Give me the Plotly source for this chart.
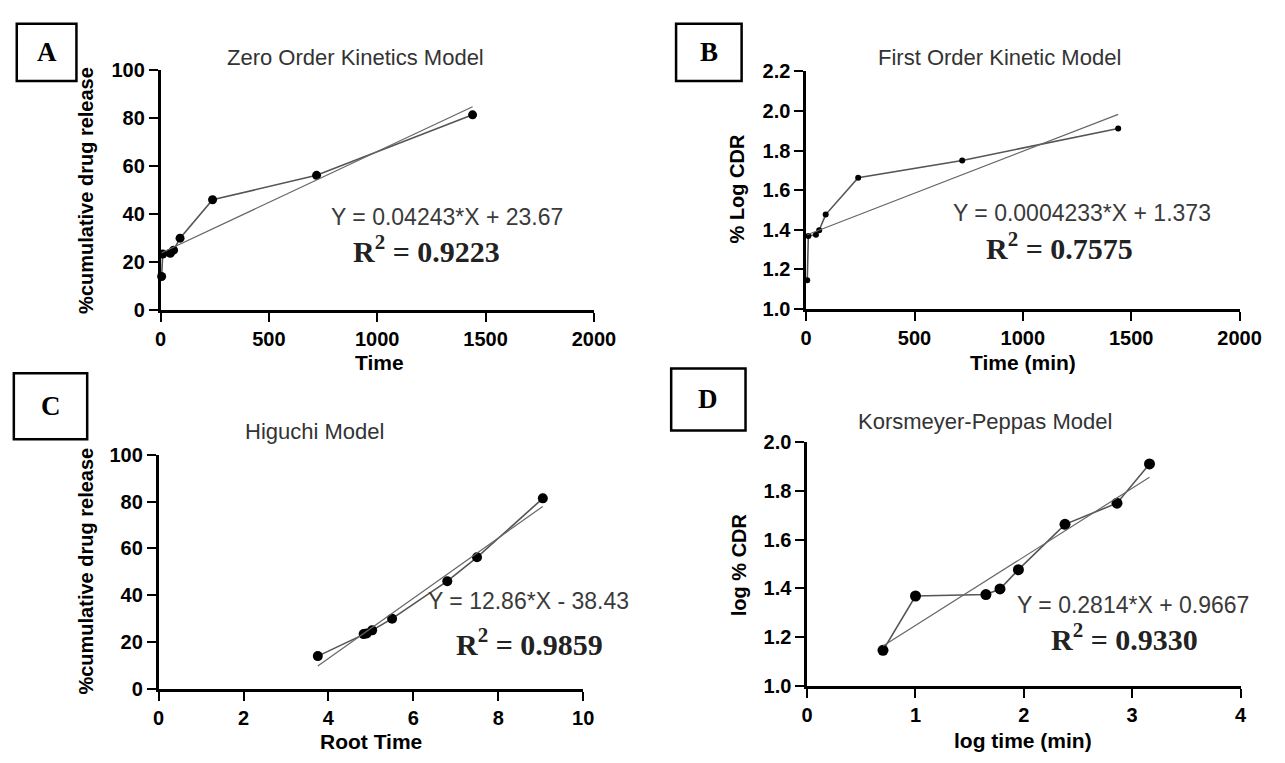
import plotly.graph_objects as go

W, H = 1285, 763

# ---- data ----
time_min = [5, 10, 45, 60, 90, 240, 720, 1440]
cdr_pct = [14.0, 23.4, 23.7, 25.0, 30.0, 46.0, 56.2, 81.4]
log_cdr = [1.146, 1.369, 1.375, 1.398, 1.477, 1.663, 1.750, 1.911]
root_time = [3.75, 4.83, 4.90, 5.03, 5.50, 6.80, 7.50, 9.05]
log_time = [0.70, 1.00, 1.65, 1.78, 1.95, 2.38, 2.86, 3.16]

zero_fit = (0.04243, 23.67)
first_fit = (0.0004233, 1.373)
higuchi_fit = (12.86, -38.43)
kp_fit = (0.2814, 0.9667)

titles = ["Zero Order Kinetics Model", "First Order Kinetic Model",
          "Higuchi Model", "Korsmeyer-Peppas Model"]
eq_texts = ["Y = 0.04243*X + 23.67", "Y = 0.0004233*X + 1.373",
            "Y = 12.86*X - 38.43", "Y = 0.2814*X + 0.9667"]
r2_texts = ["0.9223", "0.7575", "0.9859", "0.9330"]
panel_letters = ["A", "B", "C", "D"]
x_titles = ["Time", "Time (min)", "Root Time", "log time (min)"]
y_titles = ["%cumulative drug release", "% Log CDR",
            "%cumulative drug release", "log % CDR"]


def px(x):
    return x / W


def py(y):
    return 1 - y / H


panels = [
    dict(x=time_min, y=cdr_pct, fit=zero_fit, msize=9,
         xdom=(158, 601), ydom=(61, 308), xr=[0, 2000], yr=[0, 100],
         xd=500, yd=20, yfmt="d"),
    dict(x=time_min, y=log_cdr, fit=first_fit, msize=6,
         xdom=(818, 1261), ydom=(62, 307), xr=[0, 2000], yr=[1.0, 2.2],
         xd=500, yd=0.2, yfmt=".1f"),
    dict(x=root_time, y=cdr_pct, fit=higuchi_fit, msize=10,
         xdom=(156, 590), ydom=(457, 698), xr=[0, 10], yr=[0, 100],
         xd=2, yd=20, yfmt="d"),
    dict(x=log_time, y=log_cdr, fit=kp_fit, msize=11,
         xdom=(819, 1262), ydom=(444, 695), xr=[0, 4], yr=[1.0, 2.0],
         xd=1, yd=0.2, yfmt=".1f"),
]

# annotation layout (pixel positions)
title_pos = [(357, 48), (1016, 48), (315, 433), (1001, 423)]
box_pos = [(11, 13, 72, 72), (685, 13, 752, 72), (8, 373, 83, 441), (680, 368, 756, 432)]
ytitle_pos = [(81, 185), (747, 183), (82, 577), (749, 570)]
xtitle_pos = [(382, 362), (1040, 362), (373, 752), (1040, 751)]
eq_pos = [(451, 212), (1100, 208), (534, 608), (1152, 612)]
r2_pos = [(430, 245), (1077, 242), (535, 650), (1143, 645)]

fig = go.Figure()
layout = dict(width=W, height=H, margin=dict(l=0, r=0, t=0, b=0),
              plot_bgcolor="white", paper_bgcolor="white", showlegend=False)

annotations = []
shapes = []
axis_common = dict(showline=True, linecolor="black", linewidth=2.5,
                   ticks="outside", ticklen=9, tickwidth=2, tickcolor="black",
                   showgrid=False, zeroline=False,
                   tickfont=dict(family="Arial", size=20, color="black", weight="bold"))

for i, p in enumerate(panels):
    n = "" if i == 0 else str(i + 1)
    xa, ya = "x" + n, "y" + n
    fig.add_trace(go.Scatter(x=p["x"], y=p["y"], xaxis=xa, yaxis=ya, mode="lines+markers",
                             line=dict(color="#555555", width=1.6),
                             marker=dict(color="black", size=p["msize"]),
                             cliponaxis=False))
    slope, icpt = p["fit"]
    xs = [min(p["x"]), max(p["x"])]
    fig.add_trace(go.Scatter(x=xs, y=[slope * v + icpt for v in xs], xaxis=xa, yaxis=ya,
                             mode="lines", line=dict(color="#666666", width=1.2),
                             cliponaxis=False))
    layout["xaxis" + n] = dict(axis_common, domain=[px(p["xdom"][0]), px(p["xdom"][1])],
                               range=p["xr"], dtick=p["xd"], tick0=0, anchor=ya)
    layout["yaxis" + n] = dict(axis_common, domain=[py(p["ydom"][1]), py(p["ydom"][0])],
                               range=p["yr"], dtick=p["yd"], tick0=0, anchor=xa,
                               tickformat=p["yfmt"])

    annotations.append(dict(x=px(title_pos[i][0]), y=py(title_pos[i][1]), xref="paper", yref="paper",
                            text=titles[i], showarrow=False, xanchor="center", yanchor="middle",
                            font=dict(family="Arial", size=22, color="#333333")))
    annotations.append(dict(x=px(ytitle_pos[i][0]), y=py(ytitle_pos[i][1]), xref="paper", yref="paper",
                            text=y_titles[i], showarrow=False, textangle=-90,
                            xanchor="center", yanchor="middle",
                            font=dict(family="Arial", size=20, color="black", weight="bold")))
    annotations.append(dict(x=px(xtitle_pos[i][0]), y=py(xtitle_pos[i][1]), xref="paper", yref="paper",
                            text=x_titles[i], showarrow=False, xanchor="center", yanchor="middle",
                            font=dict(family="Arial", size=21, color="black", weight="bold")))
    annotations.append(dict(x=px(eq_pos[i][0]), y=py(eq_pos[i][1]), xref="paper", yref="paper",
                            text=eq_texts[i], showarrow=False, xanchor="center", yanchor="middle",
                            font=dict(family="Arial", size=23, color="#3a3a3a")))
    annotations.append(dict(x=px(r2_pos[i][0]), y=py(r2_pos[i][1]), xref="paper", yref="paper",
                            text="R<sup>2</sup> = " + r2_texts[i], showarrow=False,
                            xanchor="center", yanchor="middle",
                            font=dict(family="Liberation Serif", size=30, color="#222222", weight="bold")))
    bx0, by0, bx1, by1 = box_pos[i]
    shapes.append(dict(type="rect", xref="paper", yref="paper",
                       x0=px(bx0), x1=px(bx1), y0=py(by1), y1=py(by0),
                       line=dict(color="black", width=2.5), fillcolor="white"))
    annotations.append(dict(x=px((bx0 + bx1) / 2), y=py((by0 + by1) / 2), xref="paper", yref="paper",
                            text=panel_letters[i], showarrow=False, xanchor="center", yanchor="middle",
                            font=dict(family="Liberation Serif", size=27, color="black", weight="bold")))

layout["annotations"] = annotations
layout["shapes"] = shapes
fig.update_layout(**layout)
fig.write_html("out.html")
